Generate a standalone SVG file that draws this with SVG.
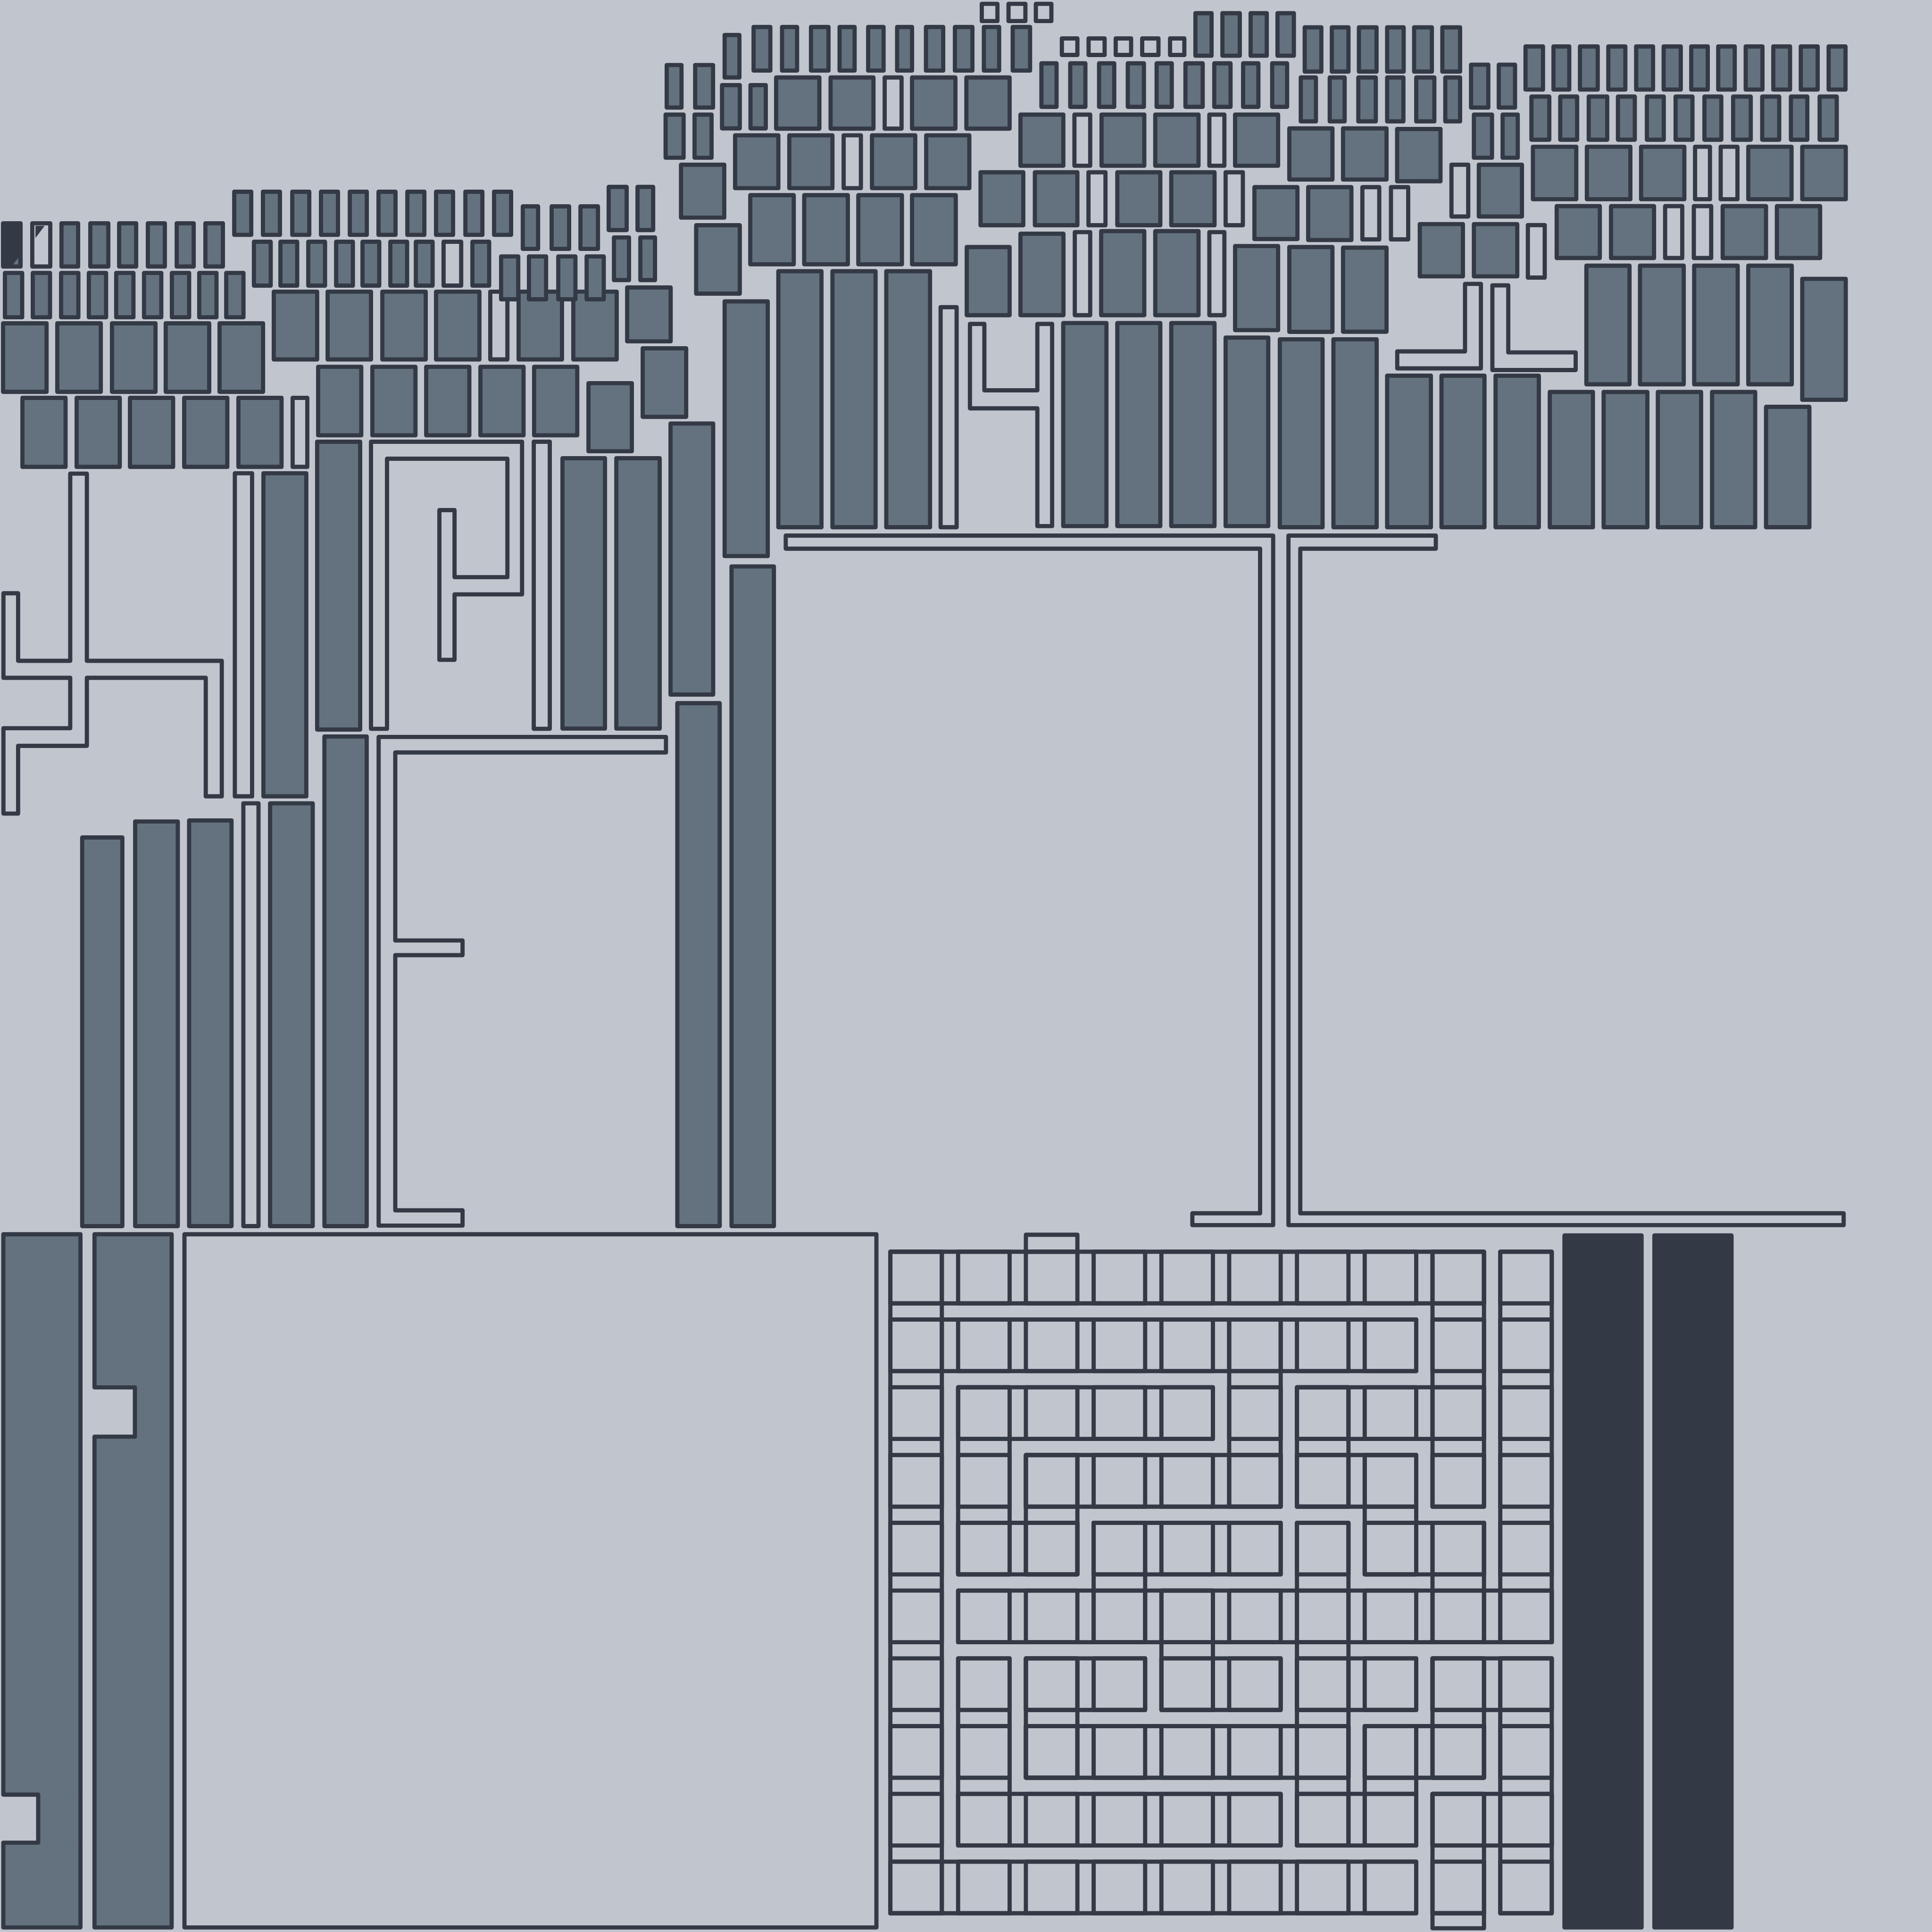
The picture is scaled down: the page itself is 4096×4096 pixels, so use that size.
<svg xmlns="http://www.w3.org/2000/svg" width="4096" height="4096" viewBox="0 0 4096 4096">
<style>
.f{fill:#64727f;stroke:#333a45;stroke-width:3.4;stroke-linejoin:round}
.l{fill:none;stroke:#333a45;stroke-width:3.4;stroke-linejoin:round}
.d{fill:#333a45;stroke:#333a45;stroke-width:3.4;stroke-linejoin:round}
</style>
<rect width="4096" height="4096" fill="#c1c5ce"/>
<g transform="scale(2.6122449)">
<g id="cluster-top-left">
<rect class="d" x="2.5" y="181.2" width="14.2" height="35.1"/>
<polygon fill="#64727f" points="14.8,209.4 14.8,214.6 10.6,214.6"/>
<rect class="l" x="26.2" y="181.2" width="14.6" height="35.1"/>
<polygon fill="#333a45" points="28.8,183.3 36.2,183.3 28.8,193.1"/>
<rect class="f" x="49.9" y="181.2" width="13.5" height="35.1"/>
<rect class="f" x="73.3" y="181.2" width="14.6" height="35.1"/>
<rect class="f" x="96.7" y="181.2" width="13.8" height="35.1"/>
<rect class="f" x="120" y="181.2" width="13.8" height="35.1"/>
<rect class="f" x="143.4" y="181.2" width="13.8" height="35.1"/>
<rect class="f" x="166.7" y="181.2" width="14.2" height="35.1"/>
<rect class="f" x="4" y="221.5" width="14" height="36"/>
<rect class="f" x="26.6" y="221.5" width="14" height="36"/>
<rect class="f" x="49.6" y="221.5" width="14" height="36"/>
<rect class="f" x="72.1" y="221.5" width="14" height="36"/>
<rect class="f" x="94.3" y="221.5" width="14" height="36"/>
<rect class="f" x="116.9" y="221.5" width="14" height="36"/>
<rect class="f" x="139.5" y="221.5" width="14" height="36"/>
<rect class="f" x="161.7" y="221.5" width="14" height="36"/>
<rect class="f" x="183.6" y="221.5" width="14" height="36"/>
<rect class="f" x="2.5" y="262.4" width="35.3" height="55.6"/>
<rect class="f" x="46.5" y="262.4" width="35.3" height="55.6"/>
<rect class="f" x="90.9" y="262.4" width="35.3" height="55.6"/>
<rect class="f" x="134.5" y="262.4" width="35.3" height="55.6"/>
<rect class="f" x="178.2" y="262.4" width="35.3" height="55.6"/>
<rect class="f" x="18.2" y="322.9" width="35" height="56"/>
<rect class="f" x="62.2" y="322.9" width="35" height="56"/>
<rect class="f" x="105.5" y="322.9" width="35" height="56"/>
<rect class="f" x="149.5" y="322.9" width="35" height="56"/>
<rect class="f" x="193.5" y="322.9" width="35" height="56"/>
<rect class="l" x="237.5" y="322.9" width="11.9" height="56"/>
<rect class="f" x="190.1" y="155.6" width="13.8" height="35"/>
<rect class="f" x="213.4" y="155.6" width="13.8" height="35"/>
<rect class="f" x="237.2" y="155.6" width="13.8" height="35"/>
<rect class="f" x="260.5" y="155.6" width="13.8" height="35"/>
<rect class="f" x="283.9" y="155.6" width="13.8" height="35"/>
<rect class="f" x="307.2" y="155.6" width="13.8" height="35"/>
<rect class="f" x="330.6" y="155.6" width="13.8" height="35"/>
<rect class="f" x="353.9" y="155.6" width="13.8" height="35"/>
<rect class="f" x="377.7" y="155.6" width="13.8" height="35"/>
<rect class="f" x="401" y="155.6" width="13.8" height="35"/>
<rect class="f" x="206.1" y="196.2" width="13.6" height="35.6"/>
<rect class="f" x="227.6" y="196.2" width="13.6" height="35.6"/>
<rect class="f" x="250.2" y="196.2" width="13.6" height="35.6"/>
<rect class="f" x="272.8" y="196.2" width="13.6" height="35.6"/>
<rect class="f" x="294.2" y="196.2" width="13.6" height="35.6"/>
<rect class="f" x="316.8" y="196.2" width="13.6" height="35.6"/>
<rect class="f" x="337.5" y="196.2" width="13.6" height="35.6"/>
<rect class="l" x="360" y="196.2" width="14.3" height="35.6"/>
<rect class="f" x="383.4" y="196.2" width="13.6" height="35.6"/>
<rect class="f" x="222.2" y="236.7" width="35.2" height="55"/>
<rect class="f" x="265.9" y="236.7" width="35.2" height="55"/>
<rect class="f" x="310.3" y="236.7" width="35.2" height="55"/>
<rect class="f" x="353.9" y="236.7" width="35.2" height="55"/>
<rect class="l" x="397.9" y="236.7" width="13.9" height="55"/>
<rect class="f" x="420.9" y="236.7" width="35.2" height="55"/>
<rect class="f" x="465.3" y="236.7" width="35.2" height="55"/>
<rect class="f" x="258.2" y="297.7" width="35" height="55.6"/>
<rect class="f" x="302.2" y="297.7" width="35" height="55.6"/>
<rect class="f" x="345.9" y="297.7" width="35" height="55.6"/>
<rect class="f" x="389.9" y="297.7" width="35" height="55.6"/>
<rect class="f" x="433.5" y="297.7" width="35" height="55.6"/>
<rect class="f" x="494" y="151.7" width="14.6" height="35"/>
<rect class="f" x="517.4" y="151.7" width="12.7" height="35"/>
<rect class="f" x="498.3" y="192.7" width="12.2" height="34.6"/>
<rect class="f" x="519.7" y="192.7" width="11.9" height="34.6"/>
<rect class="f" x="424.3" y="167.5" width="12.4" height="34.5"/>
<rect class="f" x="447.7" y="167.5" width="14.2" height="34.5"/>
<rect class="f" x="471.1" y="167.5" width="14.2" height="34.5"/>
<rect class="f" x="406.7" y="208.1" width="13.9" height="34.8"/>
<rect class="f" x="429.3" y="208.1" width="13.9" height="34.8"/>
<rect class="f" x="453.1" y="208.1" width="13.9" height="34.8"/>
<rect class="f" x="476.1" y="208.1" width="13.9" height="34.8"/>
<rect class="f" x="509" y="233.3" width="35.3" height="43.7"/>
<rect class="f" x="521.6" y="282.7" width="35.3" height="55.6"/>
<rect class="f" x="477.6" y="311" width="35.2" height="55.2"/>
</g>
<g id="strips-left">
<polygon class="l" points="57,384.4 70.5,384.4 70.5,536.3 180,536.3 180,646.3 167,646.3 167,550.1 70.5,550.1 70.5,605.3 14.7,605.3 14.7,660.3 2.8,660.3 2.8,591 57,591 57,550.1 2.8,550.1 2.8,481.5 14.7,481.5 14.7,536.3 57,536.3"/>
<rect class="l" x="190.6" y="384.1" width="14" height="262.2"/>
<rect class="f" x="213.8" y="384.1" width="34.8" height="262.2"/>
<rect class="f" x="257.4" y="358.5" width="34.9" height="233.6"/>
<polygon class="l" points="301.1,358.5 423.7,358.5 423.7,482.4 368.9,482.4 368.9,535.5 356.6,535.5 356.6,414 368.9,414 368.9,468.4 411.8,468.4 411.8,372.3 314.1,372.3 314.1,591.5 301.1,591.5"/>
<rect class="l" x="433.2" y="358.5" width="13" height="233"/>
<rect class="f" x="456.5" y="371.9" width="34.5" height="219.4"/>
<rect class="f" x="500.2" y="371.9" width="35.2" height="219.4"/>
<rect class="f" x="544.2" y="343.7" width="34.6" height="220"/>
<rect class="f" x="66.7" y="679.7" width="32.6" height="315.4"/>
<rect class="f" x="109.7" y="666.7" width="34.6" height="328.4"/>
<rect class="f" x="153.5" y="665.9" width="34.4" height="329.2"/>
<rect class="l" x="197.5" y="652" width="12.3" height="343.1"/>
<rect class="f" x="219.2" y="652" width="34.6" height="343.1"/>
<rect class="f" x="263.3" y="597.7" width="34.3" height="397.4"/>
<polygon class="l" points="307.3,598.1 540.5,598.1 540.5,610.7 320.8,610.7 320.8,763.3 375.4,763.3 375.4,775.2 320.8,775.2 320.8,982.3 375.4,982.3 375.4,994.7 307.3,994.7"/>
<rect class="f" x="549.7" y="570.7" width="34.4" height="424.4"/>
<rect class="f" x="593.7" y="459.7" width="34.4" height="535.4"/>
<rect class="f" x="588.1" y="244.6" width="35" height="206.7"/>
</g>
<g id="cluster-top-middle">
<rect class="f" x="541.1" y="52.8" width="12" height="34.5"/>
<rect class="f" x="564.2" y="52.8" width="14.5" height="34.5"/>
<rect class="f" x="540.2" y="93" width="14.6" height="35"/>
<rect class="f" x="563.7" y="93" width="13.8" height="35"/>
<rect class="f" x="552.7" y="133.7" width="35.1" height="42.9"/>
<rect class="f" x="565" y="182.8" width="35.4" height="55.5"/>
<rect class="f" x="588.1" y="28.4" width="12" height="34.5"/>
<rect class="f" x="586" y="69.1" width="14.4" height="35.1"/>
<rect class="f" x="609.1" y="69.1" width="12.4" height="35.1"/>
<rect class="f" x="611.6" y="21.9" width="13.6" height="35.4"/>
<rect class="f" x="634.7" y="21.9" width="12.2" height="35.4"/>
<rect class="f" x="658.2" y="21.9" width="14.2" height="35.4"/>
<rect class="f" x="681.4" y="21.9" width="12.2" height="35.4"/>
<rect class="f" x="704.6" y="21.9" width="12.5" height="35.4"/>
<rect class="f" x="728.1" y="21.9" width="12.1" height="35.4"/>
<rect class="f" x="751.5" y="21.9" width="14" height="35.4"/>
<rect class="f" x="775" y="21.9" width="14.2" height="35.4"/>
<rect class="f" x="798.5" y="21.9" width="12.4" height="35.4"/>
<rect class="f" x="821.9" y="21.9" width="14.1" height="35.4"/>
<rect class="l" x="796.8" y="3.1" width="12.7" height="14"/>
<rect class="l" x="818.5" y="3.1" width="13.7" height="14"/>
<rect class="l" x="840.7" y="3.1" width="12.6" height="14"/>
<rect class="f" x="629.9" y="62.9" width="35.1" height="41.5"/>
<rect class="f" x="674.1" y="62.9" width="34.8" height="41.5"/>
<rect class="l" x="718" y="62.9" width="13.7" height="41.5"/>
<rect class="f" x="740.2" y="62.9" width="35.2" height="41.5"/>
<rect class="f" x="784.3" y="62.9" width="35.1" height="41.5"/>
<rect class="f" x="596.6" y="109.8" width="35.1" height="42.9"/>
<rect class="f" x="640.6" y="109.8" width="35" height="42.9"/>
<rect class="l" x="684.7" y="109.8" width="14" height="42.9"/>
<rect class="f" x="707.7" y="109.8" width="35.1" height="42.9"/>
<rect class="f" x="751.7" y="109.8" width="35" height="42.9"/>
<rect class="f" x="608.9" y="158.4" width="35.3" height="56.1"/>
<rect class="f" x="652.7" y="158.4" width="35.4" height="56.1"/>
<rect class="f" x="696.6" y="158.4" width="35.4" height="56.1"/>
<rect class="f" x="740.2" y="158.4" width="35.5" height="56.1"/>
<rect class="f" x="631.7" y="220.1" width="35" height="207.8"/>
<rect class="f" x="675.6" y="220.1" width="35" height="207.8"/>
<rect class="f" x="719.3" y="220.1" width="35.5" height="207.8"/>
<rect class="l" x="763.4" y="249.3" width="13" height="178.6"/>
<rect class="f" x="784.6" y="200.5" width="34.8" height="55.3"/>
<polygon class="l" points="787.2,262.9 798.9,262.9 798.9,316.8 841.9,316.8 841.9,262.9 853.9,262.9 853.9,427 841.9,427 841.9,331.4 787.2,331.4"/>
<rect class="l" x="861.8" y="31.2" width="12.6" height="13.4"/>
<rect class="l" x="883.5" y="31.2" width="13" height="13.4"/>
<rect class="l" x="905.5" y="31.2" width="12.5" height="13.4"/>
<rect class="l" x="927" y="31.2" width="13.2" height="13.4"/>
<rect class="l" x="949.6" y="31.2" width="11.6" height="13.4"/>
<rect class="f" x="970.2" y="10.7" width="13.1" height="34.5"/>
<rect class="f" x="992.1" y="10.7" width="14.1" height="34.5"/>
<rect class="f" x="1015" y="10.7" width="13.1" height="34.5"/>
<rect class="f" x="1036.8" y="10.7" width="13.3" height="34.5"/>
<rect class="f" x="845.2" y="51.4" width="12.3" height="35.3"/>
<rect class="f" x="868.6" y="51.4" width="12.3" height="35.3"/>
<rect class="f" x="892" y="51.4" width="12.3" height="35.3"/>
<rect class="f" x="915.3" y="51.4" width="13.1" height="35.3"/>
<rect class="f" x="938.7" y="51.4" width="12.3" height="35.3"/>
<rect class="f" x="962.1" y="51.4" width="14" height="35.3"/>
<rect class="f" x="985.5" y="51.4" width="13.2" height="35.3"/>
<rect class="f" x="1008.9" y="51.4" width="12.4" height="35.3"/>
<rect class="f" x="1032.5" y="51.4" width="12.1" height="35.3"/>
<rect class="f" x="828.2" y="93" width="34.8" height="41.5"/>
<rect class="l" x="872" y="93" width="12.8" height="41.5"/>
<rect class="f" x="894" y="93" width="34.7" height="41.5"/>
<rect class="f" x="937.6" y="93" width="35.1" height="41.5"/>
<rect class="l" x="981.5" y="93" width="12.2" height="41.5"/>
<rect class="f" x="1002.4" y="93" width="34.9" height="41.5"/>
<rect class="f" x="795.8" y="139.8" width="34.7" height="43"/>
<rect class="f" x="839.9" y="139.8" width="34.5" height="43"/>
<rect class="l" x="883.4" y="139.8" width="13.8" height="43"/>
<rect class="f" x="906.8" y="139.8" width="34.9" height="43"/>
<rect class="f" x="950.6" y="139.8" width="35.1" height="43"/>
<rect class="l" x="994.7" y="139.8" width="14" height="43"/>
<rect class="f" x="828.2" y="189.7" width="34.9" height="66.1"/>
<rect class="l" x="872.3" y="188.4" width="12.5" height="67.4"/>
<rect class="f" x="893.7" y="187.6" width="35" height="68.2"/>
<rect class="f" x="937.6" y="187.6" width="35.1" height="68.2"/>
<rect class="l" x="981.5" y="188.4" width="12.2" height="67.4"/>
<rect class="f" x="862.9" y="262.2" width="35.1" height="164.8"/>
<rect class="f" x="906.8" y="262.2" width="34.9" height="164.8"/>
<rect class="f" x="950.6" y="262.2" width="35.1" height="164.8"/>
<rect class="f" x="994.7" y="274" width="34.6" height="153"/>
<rect class="f" x="1038.7" y="275.4" width="34.7" height="152.5"/>
<rect class="f" x="1082.2" y="275.4" width="35.1" height="152.5"/>
<rect class="f" x="1002.4" y="199.7" width="34.9" height="68.2"/>
<rect class="f" x="1046.4" y="200.5" width="35" height="68.8"/>
<rect class="f" x="1090" y="201" width="35.3" height="68.2"/>
<rect class="f" x="1046.4" y="104.2" width="35" height="41.5"/>
<rect class="f" x="1090" y="104.2" width="35.3" height="41.5"/>
<rect class="f" x="1133.9" y="104.7" width="35.2" height="42.4"/>
<rect class="f" x="1018.1" y="151.9" width="34.9" height="42.1"/>
<rect class="f" x="1061.7" y="151.9" width="35.1" height="42.9"/>
<rect class="l" x="1105.7" y="151.9" width="13.7" height="42.4"/>
<rect class="l" x="1128.9" y="151.9" width="14" height="42.4"/>
<rect class="f" x="1058.9" y="22.2" width="13.5" height="35.9"/>
<rect class="f" x="1080.9" y="22.2" width="13.5" height="35.9"/>
<rect class="f" x="1102.9" y="22.2" width="14.3" height="35.9"/>
<rect class="f" x="1125.8" y="22.2" width="13.4" height="35.9"/>
<rect class="f" x="1147.7" y="22.2" width="14.4" height="35.9"/>
<rect class="f" x="1170.6" y="22.2" width="14.4" height="35.9"/>
<rect class="f" x="1055.7" y="62.9" width="12.3" height="35.6"/>
<rect class="f" x="1079.2" y="62.9" width="12.1" height="35.6"/>
<rect class="f" x="1102.4" y="62.9" width="14.2" height="35.6"/>
<rect class="f" x="1125.8" y="62.9" width="13.2" height="35.6"/>
<rect class="f" x="1149.4" y="62.9" width="14.7" height="35.6"/>
<rect class="f" x="1173" y="62.9" width="12" height="35.6"/>
<rect class="f" x="1193.9" y="52.5" width="14" height="34.8"/>
<rect class="f" x="1216.4" y="52.5" width="13.2" height="34.8"/>
<rect class="f" x="1196.2" y="93" width="14.7" height="35"/>
<rect class="f" x="1219.5" y="93" width="12.3" height="35"/>
<rect class="l" x="1178" y="133.7" width="13.6" height="42"/>
<rect class="f" x="1200.2" y="133.7" width="35" height="42"/>
<rect class="f" x="1152.3" y="181.9" width="35" height="42.4"/>
<rect class="f" x="1196.2" y="181.9" width="35.2" height="42.4"/>
<rect class="l" x="1240" y="182.7" width="13.7" height="42.6"/>
<polygon class="l" points="1189,230.4 1201.9,230.4 1201.9,299 1134,299 1134,285.2 1189,285.2"/>
<polygon class="l" points="1211.2,231.6 1224.1,231.6 1224.1,286 1278.8,286 1278.8,300.3 1211.2,300.3"/>
<rect class="f" x="1125.8" y="304.9" width="35.5" height="123"/>
<rect class="f" x="1169.9" y="304.9" width="34.9" height="123"/>
<rect class="f" x="1213.8" y="304.9" width="35.1" height="123"/>
</g>
<g id="cluster-top-right">
<rect class="f" x="1238.1" y="37.7" width="14.2" height="35"/>
<rect class="f" x="1260.8" y="37.7" width="12.8" height="35"/>
<rect class="f" x="1282.3" y="37.7" width="14.4" height="35"/>
<rect class="f" x="1305.3" y="37.7" width="13.8" height="35"/>
<rect class="f" x="1327.9" y="37.7" width="13.7" height="35"/>
<rect class="f" x="1350.2" y="37.7" width="13.9" height="35"/>
<rect class="f" x="1372.6" y="37.7" width="13.4" height="35"/>
<rect class="f" x="1394.5" y="37.7" width="13.4" height="35"/>
<rect class="f" x="1416.8" y="37.7" width="13.6" height="35"/>
<rect class="f" x="1439.2" y="37.7" width="13.6" height="35"/>
<rect class="f" x="1461.5" y="37.7" width="13.7" height="35"/>
<rect class="f" x="1484.1" y="37.7" width="13.7" height="35"/>
<rect class="f" x="1242.9" y="78.4" width="14.5" height="35"/>
<rect class="f" x="1266.3" y="78.4" width="13.7" height="35"/>
<rect class="f" x="1289.4" y="78.4" width="15" height="35"/>
<rect class="f" x="1313.1" y="78.4" width="13.7" height="35"/>
<rect class="f" x="1336.6" y="78.4" width="13.7" height="35"/>
<rect class="f" x="1359.9" y="78.4" width="13.7" height="35"/>
<rect class="f" x="1383.3" y="78.4" width="13.7" height="35"/>
<rect class="f" x="1406.6" y="78.4" width="14.3" height="35"/>
<rect class="f" x="1430.2" y="78.4" width="13.8" height="35"/>
<rect class="f" x="1453.5" y="78.4" width="13.3" height="35"/>
<rect class="f" x="1476.8" y="78.4" width="13.9" height="35"/>
<rect class="f" x="1244.1" y="119.1" width="35.2" height="42.6"/>
<rect class="f" x="1287.9" y="119.1" width="35.3" height="42.6"/>
<rect class="f" x="1331.9" y="119.1" width="35.1" height="42.6"/>
<rect class="l" x="1375.7" y="119.1" width="12.1" height="42.6"/>
<rect class="l" x="1396.5" y="119.1" width="13.6" height="42.6"/>
<rect class="f" x="1418.9" y="119.1" width="35.1" height="42.6"/>
<rect class="f" x="1462.7" y="119.1" width="35.3" height="42.6"/>
<rect class="f" x="1263.4" y="167.3" width="35" height="42.1"/>
<rect class="f" x="1307.5" y="167.3" width="34.9" height="42.1"/>
<rect class="l" x="1351.4" y="167.3" width="13.9" height="42.1"/>
<rect class="l" x="1374.7" y="167.3" width="14.1" height="42.1"/>
<rect class="f" x="1398.1" y="167.3" width="35.2" height="42.1"/>
<rect class="f" x="1442.1" y="167.3" width="35.1" height="42.1"/>
<rect class="f" x="1287.5" y="215.6" width="35" height="96.3"/>
<rect class="f" x="1331" y="215.6" width="35.5" height="96.3"/>
<rect class="f" x="1375" y="215.6" width="35.3" height="96.3"/>
<rect class="f" x="1418.9" y="215.6" width="35.3" height="96.3"/>
<rect class="f" x="1462.7" y="226.3" width="35.3" height="98.2"/>
<rect class="f" x="1257.8" y="318.1" width="35" height="109.8"/>
<rect class="f" x="1301.5" y="318.1" width="35.5" height="109.8"/>
<rect class="f" x="1345.5" y="318.1" width="35.1" height="109.8"/>
<rect class="f" x="1389.5" y="318.1" width="35" height="109.8"/>
<rect class="f" x="1433.3" y="330.2" width="35.2" height="97.7"/>
</g>
<g id="frames-middle">
<polygon class="l" points="637.7,434.7 1033.3,434.7 1033.3,994.3 967.7,994.3 967.7,984.7 1022.7,984.7 1022.7,445.3 637.7,445.3"/>
<polygon class="l" points="1045.7,434.7 1165.3,434.7 1165.3,445.3 1055.3,445.3 1055.3,984.7 1496.3,984.7 1496.3,994.3 1045.7,994.3"/>
</g>
<g id="bottom-left">
<polygon class="f" points="2.7,1001.7 65.3,1001.7 65.3,1564.3 2.7,1564.3 2.7,1495.5 31,1495.5 31,1456.5 2.7,1456.5"/>
<polygon class="f" points="76.7,1001.7 139.3,1001.7 139.3,1564.3 76.7,1564.3 76.7,1166 109.5,1166 109.5,1126 76.7,1126"/>
<rect class="l" x="149.7" y="1001.7" width="561.6" height="562.6"/>
</g>
<g id="maze" class="l">
<path d="M722.6,1015.9h41.8v41.9h-41.8z m55,0h41.8v41.9h-41.8z m55,0h41.8v41.9h-41.8z m55,0h41.8v41.9h-41.8z m55,0h41.8v41.9h-41.8z m55,0h41.8v41.9h-41.8z m55,0h41.8v41.9h-41.8z m55,0h41.8v41.9h-41.8z m55,0h41.8v41.9h-41.8z m55,0h41.8v41.9h-41.8z" id="mrow"/>
<use href="#mrow" y="55"/>
<use href="#mrow" y="110"/>
<use href="#mrow" y="165"/>
<use href="#mrow" y="220"/>
<use href="#mrow" y="275"/>
<use href="#mrow" y="330"/>
<use href="#mrow" y="385"/>
<use href="#mrow" y="440"/>
<use href="#mrow" y="495"/>
<rect x="722.6" y="1015.9" width="481.8" height="41.9"/>
<rect x="722.6" y="1070.9" width="426.8" height="41.9"/>
<rect x="777.6" y="1125.9" width="206.8" height="41.9"/>
<rect x="1052.6" y="1125.9" width="151.8" height="41.9"/>
<rect x="832.6" y="1180.9" width="206.8" height="41.9"/>
<rect x="1052.6" y="1180.9" width="96.8" height="41.9"/>
<rect x="777.6" y="1235.9" width="96.8" height="41.9"/>
<rect x="887.6" y="1235.9" width="151.8" height="41.9"/>
<rect x="1107.6" y="1235.9" width="96.8" height="41.9"/>
<rect x="777.6" y="1290.9" width="481.8" height="41.9"/>
<rect x="832.6" y="1345.9" width="96.8" height="41.9"/>
<rect x="942.6" y="1345.9" width="96.8" height="41.9"/>
<rect x="1052.6" y="1345.9" width="96.8" height="41.9"/>
<rect x="1162.6" y="1345.9" width="96.8" height="41.9"/>
<rect x="832.6" y="1400.9" width="261.8" height="41.9"/>
<rect x="1107.6" y="1400.9" width="96.8" height="41.9"/>
<rect x="777.6" y="1455.9" width="261.8" height="41.9"/>
<rect x="1052.6" y="1455.9" width="96.8" height="41.9"/>
<rect x="1162.6" y="1455.9" width="96.8" height="41.9"/>
<rect x="722.6" y="1510.9" width="426.8" height="41.9"/>
<rect x="722.6" y="1015.9" width="41.8" height="536.9"/>
<rect x="777.6" y="1125.9" width="41.8" height="151.9"/>
<rect x="777.6" y="1345.9" width="41.8" height="151.9"/>
<rect x="832.6" y="1180.9" width="41.8" height="96.9"/>
<rect x="832.6" y="1345.9" width="41.8" height="96.9"/>
<rect x="887.6" y="1235.9" width="41.8" height="96.9"/>
<rect x="942.6" y="1290.9" width="41.8" height="96.9"/>
<rect x="997.6" y="1070.9" width="41.8" height="151.9"/>
<rect x="1052.6" y="1125.9" width="41.8" height="96.9"/>
<rect x="1052.6" y="1235.9" width="41.8" height="261.9"/>
<rect x="1107.6" y="1180.9" width="41.8" height="96.9"/>
<rect x="1107.6" y="1400.9" width="41.8" height="96.9"/>
<rect x="1162.6" y="1015.9" width="41.8" height="206.9"/>
<rect x="1162.6" y="1235.9" width="41.8" height="96.9"/>
<rect x="1162.6" y="1345.9" width="41.8" height="96.9"/>
<rect x="1162.6" y="1455.9" width="41.8" height="96.9"/>
<rect x="1162.6" y="1552.8" width="41.8" height="12.2"/>
<rect x="1217.6" y="1015.9" width="41.8" height="316.9"/>
<rect x="1217.6" y="1345.9" width="41.8" height="206.9"/>
<rect x="832.6" y="1002.1" width="41.8" height="13.8"/>
</g>
<g id="dark-bars">
<rect class="d" x="1269.7" y="1002.7" width="62.6" height="561.6"/>
<rect class="d" x="1342.7" y="1002.7" width="62.6" height="561.6"/>
</g>
</g>
</svg>
